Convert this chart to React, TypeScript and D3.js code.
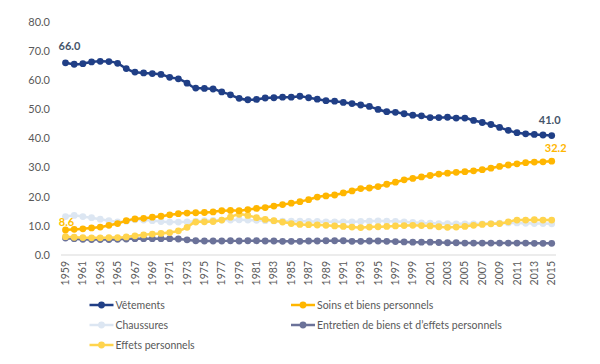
import { useEffect, useRef } from 'react'
import * as d3 from 'd3'

const years = d3.range(1959, 2016)

const vetements = [
  66.0, 65.5, 65.7, 66.3, 66.5, 66.4, 65.8, 64.0, 62.8, 62.5, 62.3, 62.0, 61.0, 60.5, 59.0, 57.3, 57.2, 57.0, 56.0, 55.0,
  53.8, 53.3, 53.4, 53.9, 54.0, 54.2, 54.2, 54.5, 54.0, 53.5, 53.0, 52.8, 52.4, 52.0, 51.5, 51.0, 50.0, 49.2, 49.0, 48.5,
  48.0, 47.8, 47.2, 47.2, 47.3, 47.0, 47.0, 46.2, 45.5, 44.8, 43.8, 42.8, 42.0, 41.6, 41.4, 41.2, 41.0,
]
const soins = [
  8.6, 8.8, 9.0, 9.3, 9.6, 10.2, 10.8, 11.8, 12.4, 12.6, 13.0, 13.3, 13.8, 14.2, 14.4, 14.5, 14.6, 14.8, 15.2, 15.3,
  15.2, 15.6, 16.0, 16.3, 16.8, 17.3, 17.8, 18.3, 19.0, 19.9, 20.3, 20.6, 21.3, 22.0, 22.8, 23.0, 23.5, 24.3, 25.0, 25.8,
  26.3, 26.8, 27.3, 27.8, 28.1, 28.4, 28.6, 28.9, 29.3, 29.8, 30.4, 30.9, 31.3, 31.7, 31.9, 32.0, 32.2,
]
const chaussures = [
  13.2, 13.6, 13.2, 12.8, 12.3, 11.8, 11.4, 11.6, 12.1, 12.0, 11.8, 11.5, 11.3, 11.3, 11.4, 11.6, 11.8, 11.9, 12.0, 12.0,
  12.1, 12.0, 11.9, 11.8, 11.7, 11.6, 11.6, 11.6, 11.5, 11.5, 11.4, 11.4, 11.4, 11.4, 11.5, 11.6, 11.7, 11.6, 11.5, 11.4,
  11.2, 11.0, 10.9, 10.8, 10.8, 10.7, 10.7, 10.7, 10.7, 10.8, 10.9, 11.0, 11.0, 10.9, 10.8, 10.8, 10.7,
]
const entretien = [
  5.8, 5.6, 5.4, 5.3, 5.3, 5.3, 5.4, 5.5, 5.6, 5.6, 5.6, 5.6, 5.6, 5.5, 5.2, 4.9, 4.8, 4.8, 4.8, 4.9,
  4.8, 4.9, 4.9, 4.8, 4.8, 4.7, 4.7, 4.7, 4.8, 4.8, 4.9, 4.9, 4.9, 4.7, 4.7, 4.8, 4.8, 4.7, 4.6, 4.5,
  4.4, 4.4, 4.4, 4.3, 4.2, 4.2, 4.1, 4.1, 4.1, 4.1, 4.1, 4.1, 4.1, 4.1, 4.0, 4.0, 4.0,
]
const effets = [
  6.3, 6.1, 6.0, 5.9, 5.9, 6.0, 6.0, 6.2, 6.6, 6.9, 7.2, 7.4, 7.7, 8.3, 9.5, 11.3, 11.4, 11.5, 12.0, 13.0,
  14.0, 13.6, 12.8, 12.2, 11.8, 11.3, 10.8, 10.5, 10.4, 10.3, 10.2, 10.0, 9.8, 9.6, 9.4, 9.6, 9.7, 9.8, 10.0, 10.1,
  10.2, 10.1, 10.0, 9.7, 9.5, 9.6, 9.8, 10.2, 10.5, 10.7, 10.8, 11.4, 12.0, 12.0, 12.1, 12.0, 12.0,
]

const yTicks = [0, 10, 20, 30, 40, 50, 60, 70, 80]

// draw order: light series first, vêtements on top
const series = [
  { name: 'Chaussures', values: chaussures, color: '#dce6f2' },
  { name: 'Entretien de biens et d\u2019effets personnels', values: entretien, color: '#6b7299' },
  { name: 'Effets personnels', values: effets, color: '#ffd44d' },
  { name: 'Soins et biens personnels', values: soins, color: '#ffb600' },
  { name: 'Vêtements', values: vetements, color: '#203f86' },
]

const legendRows = [
  ['Vêtements', 'Soins et biens personnels'],
  ['Chaussures', 'Entretien de biens et d\u2019effets personnels'],
  ['Effets personnels'],
]

const FONT = 'Lato, "Open Sans", sans-serif'
const TEXT = '#595959'

export default function App() {
  const svgRef = useRef<SVGSVGElement>(null)

  useEffect(() => {
    if (!svgRef.current) return
    const svg = d3.select(svgRef.current)
    svg.selectAll('*').remove()

    const x = d3.scalePoint<number>().domain(years).range([65.5, 551.7])
    const y = d3.scaleLinear().domain([0, 80]).range([255, 22])

    // y labels
    svg.append('g')
      .selectAll('text')
      .data(yTicks)
      .join('text')
      .attr('x', 50)
      .attr('y', d => y(d))
      .attr('dy', '0.35em')
      .attr('text-anchor', 'end')
      .attr('font-family', FONT)
      .attr('font-size', 11)
      .attr('fill', TEXT)
      .text(d => d.toFixed(1))

    // baseline
    svg.append('line')
      .attr('x1', 61).attr('x2', 556)
      .attr('y1', y(0)).attr('y2', y(0))
      .attr('stroke', '#d9d9d9').attr('stroke-width', 1)

    // x labels, every other year
    svg.append('g')
      .selectAll('text')
      .data(years.filter((_, i) => i % 2 === 0))
      .join('text')
      .attr('transform', d => `translate(${x(d)! + 3.6},261) rotate(-90)`)
      .attr('text-anchor', 'end')
      .attr('font-family', FONT)
      .attr('font-size', 10.5)
      .attr('fill', TEXT)
      .text(d => d)

    const line = d3.line<number>()
      .x((_, i) => x(years[i])!)
      .y(d => y(d))
      .curve(d3.curveMonotoneX)

    const g = svg.append('g')
    series.forEach(s => {
      g.append('path')
        .attr('d', line(s.values))
        .attr('fill', 'none')
        .attr('stroke', s.color)
        .attr('stroke-width', 2.5)
      g.append('g')
        .selectAll('circle')
        .data(s.values)
        .join('circle')
        .attr('cx', (_, i) => x(years[i])!)
        .attr('cy', d => y(d))
        .attr('r', 3.4)
        .attr('fill', s.color)
    })

    // data labels
    const labels = [
      { text: '66.0', x: x(1959)! + 4, y: y(vetements[0]) - 13, color: '#44546a' },
      { text: '41.0', x: x(2015)! - 2, y: y(vetements[56]) - 12, color: '#44546a' },
      { text: '32.2', x: x(2015)! + 4, y: y(soins[56]) - 9, color: '#ffb600' },
      { text: '8.6', x: x(1959)! + 1, y: y(soins[0]) - 4, color: '#ffc000' },
    ]
    svg.append('g')
      .selectAll('text')
      .data(labels)
      .join('text')
      .attr('x', d => d.x)
      .attr('y', d => d.y)
      .attr('text-anchor', 'middle')
      .attr('font-family', FONT)
      .attr('font-size', 11)
      .attr('font-weight', 700)
      .attr('fill', d => d.color)
      .text(d => d.text)

    // legend
    const colorOf = (n: string) => series.find(s => s.name === n)!.color
    const lg = svg.append('g')
    legendRows.forEach((row, r) => {
      row.forEach((name, c) => {
        const lx = c === 0 ? 89.5 : 291
        const ly = 305 + r * 20
        const item = lg.append('g').attr('transform', `translate(${lx},${ly})`)
        item.append('line')
          .attr('x1', 0).attr('x2', 24)
          .attr('stroke', colorOf(name)).attr('stroke-width', 2.5)
        item.append('circle')
          .attr('cx', 12).attr('r', 3.4).attr('fill', colorOf(name))
        item.append('text')
          .attr('x', 26).attr('dy', '0.35em')
          .attr('font-family', FONT)
          .attr('font-size', 10.5)
          .attr('fill', TEXT)
          .text(name)
      })
    })
  }, [])

  return (
    <svg ref={svgRef} width={600} height={364}
      style={{ display: 'block', position: 'absolute', left: 0, top: 0, background: '#fff' }} />
  )
}
